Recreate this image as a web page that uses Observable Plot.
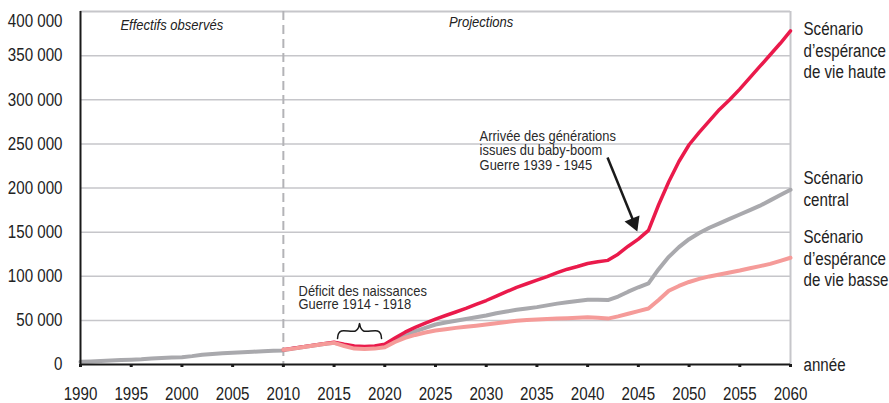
<!DOCTYPE html>
<html>
<head>
<meta charset="utf-8">
<script src="https://cdn.jsdelivr.net/npm/d3@7"></script>
<script src="https://cdn.jsdelivr.net/npm/@observablehq/plot@0.6"></script>
<style>
  html, body { margin: 0; padding: 0; background: #ffffff; }
  #chart svg { display: block; }
</style>
</head>
<body>
<div id="chart"></div>
<script>
// ---- Data ----
const observedYears = [1990,1991,1992,1993,1994,1995,1996,1997,1998,1999,2000,2001,2002,2003,2004,2005,2006,2007,2008,2009,2010];
const observedValues = [3000,3500,4000,4500,5000,5500,6000,6800,7300,7800,8300,9500,11000,12000,12700,13300,13900,14500,15000,15500,16000];

const projYears = [2010,2011,2012,2013,2014,2015,2016,2017,2018,2019,2020,2021,2022,2023,2024,2025,2026,2027,2028,2029,2030,2031,2032,2033,2034,2035,2036,2037,2038,2039,2040,2041,2042,2043,2044,2045,2046,2047,2048,2049,2050,2051,2052,2053,2054,2055,2056,2057,2058,2059,2060];
const highScenario = [16600,18300,20000,21800,23600,25300,23000,21000,20500,21000,23000,30000,36600,42000,47000,51500,55500,59500,63500,68000,72500,77500,82500,87500,91500,95500,99500,104000,108000,111000,114500,116500,118000,125000,134000,142000,152000,181000,207000,230000,249000,263000,276000,289000,300000,312000,325000,338000,351000,364000,378000];
const centralScenario = [16600,18200,19900,21600,23300,24500,22000,19500,19000,19800,21000,27500,33000,37500,41500,45300,47500,49500,51500,53500,55500,58000,60000,62000,63500,65000,67000,69000,70600,72000,73300,73500,73000,77000,82500,87500,92000,108000,122000,133000,142000,149000,155000,160000,165000,170000,175000,180000,186000,192000,198000];
const lowScenario = [16600,18000,19800,21500,23200,24500,21000,18000,17500,18000,19500,25500,30200,33500,36200,38500,40000,41500,42800,44000,45300,46800,48200,49500,50300,51000,51500,52000,52500,53000,53600,53000,52000,54500,57500,60500,63500,73000,83500,89000,93500,97000,99800,102000,104300,106500,109000,111500,114000,117500,121000];

const yTicks = [0,50000,100000,150000,200000,250000,300000,350000];
const yTopTick = [400000];
const xTicks = [1990,1995,2000,2005,2010,2015,2020,2025,2030,2035,2040,2045,2050,2055,2060];
const projectionStart = [2010];

const seriesLabels = ["Scénario\nd’espérance\nde vie haute", "Scénario\ncentral", "Scénario\nd’espérance\nde vie basse", "année"];
const seriesLabelY = [356400, 200000, 120900, 0];

const periodLabels = ["Effectifs observés", "Projections"];
const periodLabelX = [1999, 2029.5];
const periodLabelY = [384000, 387500];

const deficitNote = ["Déficit des naissances\nGuerre 1914 - 1918"];
const deficitNoteX = [2011.5];
const deficitNoteY = [74500];
const babyBoomNote = ["Arrivée des générations\nissues du baby-boom\nGuerre 1939 - 1945"];
const babyBoomNoteX = [2029.35];
const babyBoomNoteY = [242500];

const braceX = [2015.34, 2015.44, 2015.73, 2017.11, 2017.41, 2017.51, 2017.61, 2017.9, 2019.28, 2019.58, 2019.68];
const braceY = [29500, 35100, 38000, 38000, 41900, 46500, 41900, 38000, 38000, 35100, 29500];

const arrowFrom = {x: 2041.96, y: 234500};
const arrowTo = {x: 2044.6, y: 160000};
const arrowTip = {x: 2044.55, y: 160500};

// ---- Build tables ----
const grayLine = observedYears.map((y, i) => ({year: y, value: observedValues[i]}))
  .concat(projYears.slice(1).map((y, i) => ({year: y, value: centralScenario[i + 1]})));
const highLine = projYears.map((y, i) => ({year: y, value: highScenario[i]}));
const lowLine = projYears.map((y, i) => ({year: y, value: lowScenario[i]}));
const brace = braceX.map((x, i) => ({x, y: braceY[i]}));
const labels = seriesLabels.map((t, i) => ({t, y: seriesLabelY[i]}));
const periods = periodLabels.map((t, i) => ({t, x: periodLabelX[i], y: periodLabelY[i]}));
const deficit = deficitNote.map((t, i) => ({t, x: deficitNoteX[i], y: deficitNoteY[i]}));
const babyBoom = babyBoomNote.map((t, i) => ({t, x: babyBoomNoteX[i], y: babyBoomNoteY[i]}));

const FONT = "'Liberation Sans', Arial, sans-serif";
const RED = "#ea1a4b";
const GRAY = "#a9a9ad";
const SALMON = "#f59b99";
const GRID = "#c6c6ca";
const fmt = d => d3.format(",")(d).replace(/,/g, " ");

const chart = Plot.plot({
  width: 889,
  height: 403,
  marginLeft: 80,
  marginRight: 99,
  marginTop: 11,
  marginBottom: 39,
  style: {fontFamily: FONT, fontSize: "18px", color: "#222", background: "#fff"},
  x: {domain: [1990, 2060]},
  y: {domain: [0, 400000]},
  marks: [
    Plot.ruleY(yTicks.slice(1), {stroke: GRID, strokeWidth: 1.5}),
    Plot.ruleY(yTopTick, {stroke: GRID, strokeWidth: 2}),
    Plot.ruleX([2060], {stroke: GRID, strokeWidth: 2}),
    Plot.ruleX(projectionStart, {stroke: "#b3b3b7", strokeWidth: 2, strokeDasharray: "9,5"}),
    Plot.line(grayLine, {x: "year", y: "value", stroke: GRAY, strokeWidth: 4, strokeLinejoin: "round"}),
    Plot.line(highLine, {x: "year", y: "value", stroke: RED, strokeWidth: 3.5, strokeLinejoin: "round"}),
    Plot.line(lowLine, {x: "year", y: "value", stroke: SALMON, strokeWidth: 4, strokeLinejoin: "round"}),
    Plot.ruleX([1990], {stroke: "#1a1a1a", strokeWidth: 2}),
    Plot.ruleY([0], {stroke: "#1a1a1a", strokeWidth: 2}),
    Plot.axisY({ticks: yTicks, tickSize: 0, tickPadding: 18, tickFormat: fmt, fontSize: 18, fill: "#222", label: null}),
    Plot.text(yTopTick, {x: 1990, y: d => d, text: fmt, textAnchor: "end", dx: -18, dy: 10, fontSize: 18, fill: "#222"}),
    Plot.axisX({ticks: xTicks, tickSize: 3, strokeWidth: 3, stroke: "#1a1a1a", tickPadding: 20, tickFormat: d => String(d), fontSize: 18, fill: "#222", label: null}),
    Plot.text(labels, {x: 2060, y: "y", text: "t", textAnchor: "start", dx: 13, fontSize: 18, lineHeight: 1.2, fill: "#222"}),
    Plot.text(periods, {x: "x", y: "y", text: "t", fontSize: 14, fontStyle: "italic", fill: "#222", className: "period"}),
    Plot.text(deficit, {x: "x", y: "y", text: "t", textAnchor: "start", fontSize: 15, lineHeight: 0.85, fill: "#2a2a2a", className: "note"}),
    Plot.text(babyBoom, {x: "x", y: "y", text: "t", textAnchor: "start", fontSize: 15, lineHeight: 0.97, fill: "#2a2a2a", className: "note"}),
    Plot.line(brace, {x: "x", y: "y", stroke: "#1a1a1a", strokeWidth: 1.5, curve: "catmull-rom"}),
    Plot.link([arrowFrom], {x1: "x", y1: "y", x2: () => arrowTo.x, y2: () => arrowTo.y, stroke: "#1a1a1a", strokeWidth: 2.5}),
    Plot.dot([arrowTip], {x: "x", y: "y", symbol: "triangle", r: 6, fill: "#1a1a1a", stroke: "none", rotate: 157.7})
  ]
});
document.getElementById("chart").appendChild(chart);

// Condense glyphs horizontally to mimic the narrow typeface of the original
chart.querySelectorAll("text").forEach(t => {
  let factor = 0.84;
  if (t.closest(".period")) factor = 0.93;
  else if (t.closest(".note")) factor = 0.86;
  const tspans = t.querySelectorAll("tspan");
  const els = tspans.length ? Array.from(tspans) : [t];
  els.forEach(e => {
    const L = e.getComputedTextLength();
    if (L > 0) {
      e.setAttribute("textLength", (L * factor).toFixed(2));
      e.setAttribute("lengthAdjust", "spacingAndGlyphs");
    }
  });
});
</script>
</body>
</html>
